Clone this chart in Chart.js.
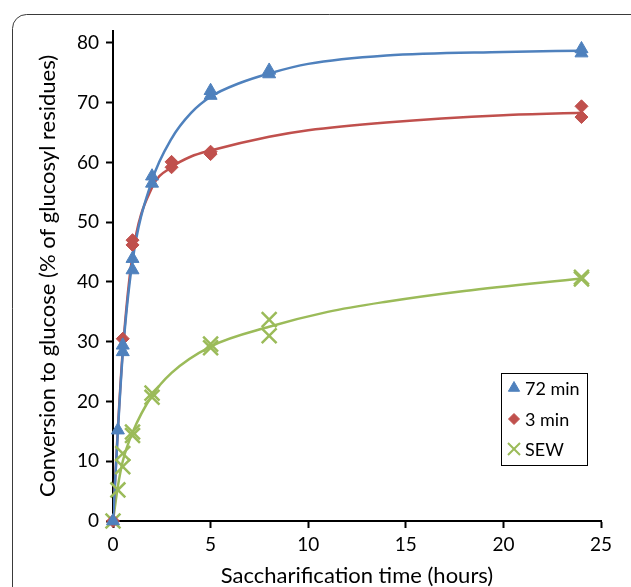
<!DOCTYPE html>
<html>
<head>
<meta charset="utf-8">
<script src="https://cdn.jsdelivr.net/npm/chart.js@4"></script>
<style>
  html, body { margin: 0; padding: 0; background: #fff; }
  #wrap { width: 631px; height: 587px; }
</style>
</head>
<body>
<div id="wrap"><canvas id="sacc" width="631" height="587"></canvas></div>
<script>
// measured points (two replicates per time)
const hours72 = [0, 0.25, 0.5, 0.5, 1, 1, 2, 2, 5, 5, 8, 8, 24, 24];
const conv72  = [0, 15.2, 28.3, 29.4, 42, 43.9, 56.5, 57.7, 71.2, 72, 74.8, 75.4, 78.3, 79];

const hours3 = [0, 0.5, 1, 1, 3, 3, 5, 5, 24, 24];
const conv3  = [0, 30.5, 46.2, 47, 59.2, 60.1, 61.4, 61.8, 67.6, 69.4];

const hoursSEW = [0, 0.25, 0.5, 0.5, 1, 1, 2, 2, 5, 5, 8, 8, 24, 24];
const convSEW  = [0, 5.2, 9.1, 11.3, 14.3, 14.9, 20.7, 21.4, 29, 29.6, 31, 33.7, 40.5, 40.8];

// fitted trend curves
const fit72T = [0, 0.25, 0.5, 1, 2, 3, 4, 5, 6.5, 8, 10, 14, 20, 24];
const fit72V = [0, 15, 28, 43.5, 57, 64, 68.3, 71, 73.3, 74.9, 76.5, 77.9, 78.5, 78.7];

const fit3T = [0, 0.25, 0.5, 1, 2, 3, 4, 5, 8, 10, 14, 20, 24];
const fit3V = [0, 15.5, 28.5, 44.5, 55.8, 59.2, 61, 62, 64.3, 65.4, 66.7, 67.9, 68.3];

const fitSEWT = [0, 0.25, 0.5, 1, 2, 3, 5, 8, 11, 14, 18, 24];
const fitSEWV = [0, 5.8, 10, 14.8, 21, 24.8, 29.2, 32.5, 35, 36.7, 38.5, 40.6];

const xTicks = [0, 5, 10, 15, 20, 25];
const yTicks = [0, 10, 20, 30, 40, 50, 60, 70, 80];

const seriesNames = ['72 min', '3 min', 'SEW'];
const BLUE = '#4F81BD', RED = '#C0504D', GREEN = '#9BBB59';
const FONT = 'Lato, "Open Sans", sans-serif';

const pts = (xs, ys) => xs.map((x, i) => ({ x: x, y: ys[i] }));

const markers = [
  { pointStyle: 'triangle', radius: 7.5, color: BLUE, borderWidth: 1 },
  { pointStyle: 'rectRot', radius: 6.5, color: RED, borderWidth: 1 },
  { pointStyle: 'crossRot', radius: 10.5, color: GREEN, borderWidth: 2.5 }
];

function markerSet(label, xs, ys, m) {
  return {
    label: label,
    data: pts(xs, ys),
    showLine: false,
    clip: false,
    pointStyle: m.pointStyle,
    pointRadius: m.radius,
    pointBackgroundColor: m.color,
    pointBorderColor: m.color,
    pointBorderWidth: m.borderWidth,
    order: 0
  };
}

function curveSet(xs, ys, color) {
  return {
    data: pts(xs, ys),
    showLine: true,
    borderColor: color,
    borderWidth: 2.5,
    pointRadius: 0,
    cubicInterpolationMode: 'monotone',
    order: 1
  };
}

// rounded frame round the figure
const framePlugin = {
  id: 'frame',
  beforeDraw(chart) {
    const c = chart.ctx;
    c.save();
    c.strokeStyle = '#3a3a3a';
    c.lineWidth = 1;
    c.beginPath();
    c.roundRect(12.5, 14.5, 640, 620, 14);
    c.stroke();
    c.restore();
  }
};

// boxed legend inside the plot
const boxLegend = {
  id: 'boxLegend',
  afterDraw(chart) {
    const c = chart.ctx;
    c.save();
    c.strokeStyle = '#000';
    c.lineWidth = 1;
    c.strokeRect(501.5, 373.5, 86, 92);
    const rows = [388, 419, 449];
    const sizes = [6.5, 5.5, 8.5];
    c.font = '18px ' + FONT;
    c.textBaseline = 'middle';
    seriesNames.forEach((name, i) => {
      const m = markers[i];
      c.fillStyle = m.color;
      c.strokeStyle = m.color;
      c.lineWidth = m.pointStyle === 'crossRot' ? 2 : 1;
      Chart.helpers.drawPoint(c, { pointStyle: m.pointStyle, radius: sizes[i], rotation: 0, borderWidth: c.lineWidth }, 514, rows[i]);
      c.fillStyle = '#000';
      c.fillText(name, 525, rows[i] + 1);
    });
    c.restore();
  }
};

new Chart(document.getElementById('sacc'), {
  type: 'scatter',
  data: {
    datasets: [
      markerSet(seriesNames[0], hours72, conv72, markers[0]),
      markerSet(seriesNames[1], hours3, conv3, markers[1]),
      markerSet(seriesNames[2], hoursSEW, convSEW, markers[2]),
      curveSet(fit72T, fit72V, BLUE),
      curveSet(fit3T, fit3V, RED),
      curveSet(fitSEWT, fitSEWV, GREEN)
    ]
  },
  options: {
    responsive: false,
    animation: false,
    layout: { padding: { left: 0, right: 30, top: 31, bottom: 0 } },
    plugins: { legend: { display: false }, tooltip: { enabled: false } },
    scales: {
      x: {
        type: 'linear',
        min: 0, max: 25,
        afterFit(s) { s.height = 66; },
        afterBuildTicks(s) { s.ticks = xTicks.map(v => ({ value: v })); },
        border: { display: true, color: '#000', width: 2 },
        grid: { drawOnChartArea: false, drawTicks: true, tickLength: 7, tickColor: '#000', tickWidth: 2 },
        ticks: { color: '#000', padding: 5, font: { family: FONT, size: 19 } },
        title: {
          display: true,
          // zero-width non-joiner keeps "ti" from turning into a ligature
          text: 'Saccharifica\u200Ction time (hours)',
          color: '#000',
          font: { family: FONT, size: 22, lineHeight: 1 },
          padding: { top: 0, bottom: 0 }
        }
      },
      y: {
        type: 'linear',
        min: 0, max: 82,
        afterFit(s) { s.width = 113; },
        afterBuildTicks(s) { s.ticks = yTicks.map(v => ({ value: v })); },
        border: { display: true, color: '#000', width: 2 },
        grid: { drawOnChartArea: false, drawTicks: true, tickLength: 7, tickColor: '#000', tickWidth: 2 },
        ticks: { color: '#000', padding: 7, font: { family: FONT, size: 19 } },
        title: {
          display: true,
          text: 'Conversion to glucose (% of glucosyl residues)',
          color: '#000',
          font: { family: FONT, size: 22, lineHeight: 1 },
          padding: { top: 37, bottom: 0 }
        }
      }
    }
  },
  plugins: [framePlugin, boxLegend]
});
</script>
</body>
</html>
